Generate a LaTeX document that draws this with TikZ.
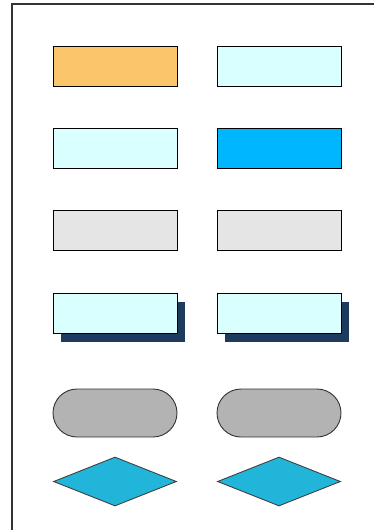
\documentclass[tikz,border=0pt]{standalone}
\usepackage{tikz}
\usetikzlibrary{shapes.geometric, shadows}
\definecolor{paleorange}{HTML}{FAC56B}
\definecolor{palecyan}{HTML}{DAFFFF}
\definecolor{brightblue}{HTML}{00B7FF}
\definecolor{lightgrey}{HTML}{E5E5E5}
\definecolor{midgrey}{HTML}{B3B3B3}
\definecolor{diamondblue}{HTML}{22B5DA}
\definecolor{navyshadow}{HTML}{1E3A5F}
\tikzset{
  box/.style={rectangle,draw=black,line width=0.9pt,minimum width=124pt,minimum height=40pt,inner sep=0pt},
  shadowbox/.style={box,fill=palecyan,drop shadow={shadow xshift=8pt,shadow yshift=-9pt,fill=navyshadow,opacity=1}},
  pill/.style={rectangle,draw=black!80,line width=0.9pt,rounded corners=24pt,fill=midgrey,minimum width=124pt,minimum height=48pt,inner sep=0pt},
  decision/.style={diamond,draw=black!75,line width=0.9pt,fill=diamondblue,minimum width=123pt,minimum height=49pt,inner sep=0pt,aspect=2.5}
}

\begin{document}
\begin{tikzpicture}[x=1pt,y=-1pt]
\useasboundingbox (0,0) rectangle (373,530);
% frame
\coordinate (fb) at (12,545);
\coordinate (fc) at (12,4);
\coordinate (fr) at (390,4);
\draw[line width=1.3pt,black!80] (fb) -- (fc) -- (fr);
% row 1
\node[box, fill=paleorange] (orange) at (115,66) {};
\node[box, fill=palecyan] (cyanA) at (279,66) {};
% row 2
\node[box, fill=palecyan] (cyanB) at (115,148) {};
\node[box, fill=brightblue] (blue) at (279,148) {};
% row 3
\node[box, fill=lightgrey] (greyA) at (115,230.5) {};
\node[box, fill=lightgrey] (greyB) at (279,230.5) {};
% row 4
\node[shadowbox] (shadowA) at (115,313) {};
\node[shadowbox] (shadowB) at (279,313) {};
% row 5
\node[pill] (pillA) at (115,413) {};
\node[pill] (pillB) at (279,413) {};
% row 6
\node[decision] (diaA) at (115,481.5) {};
\node[decision] (diaB) at (279,481.5) {};
\end{tikzpicture}
\end{document}
